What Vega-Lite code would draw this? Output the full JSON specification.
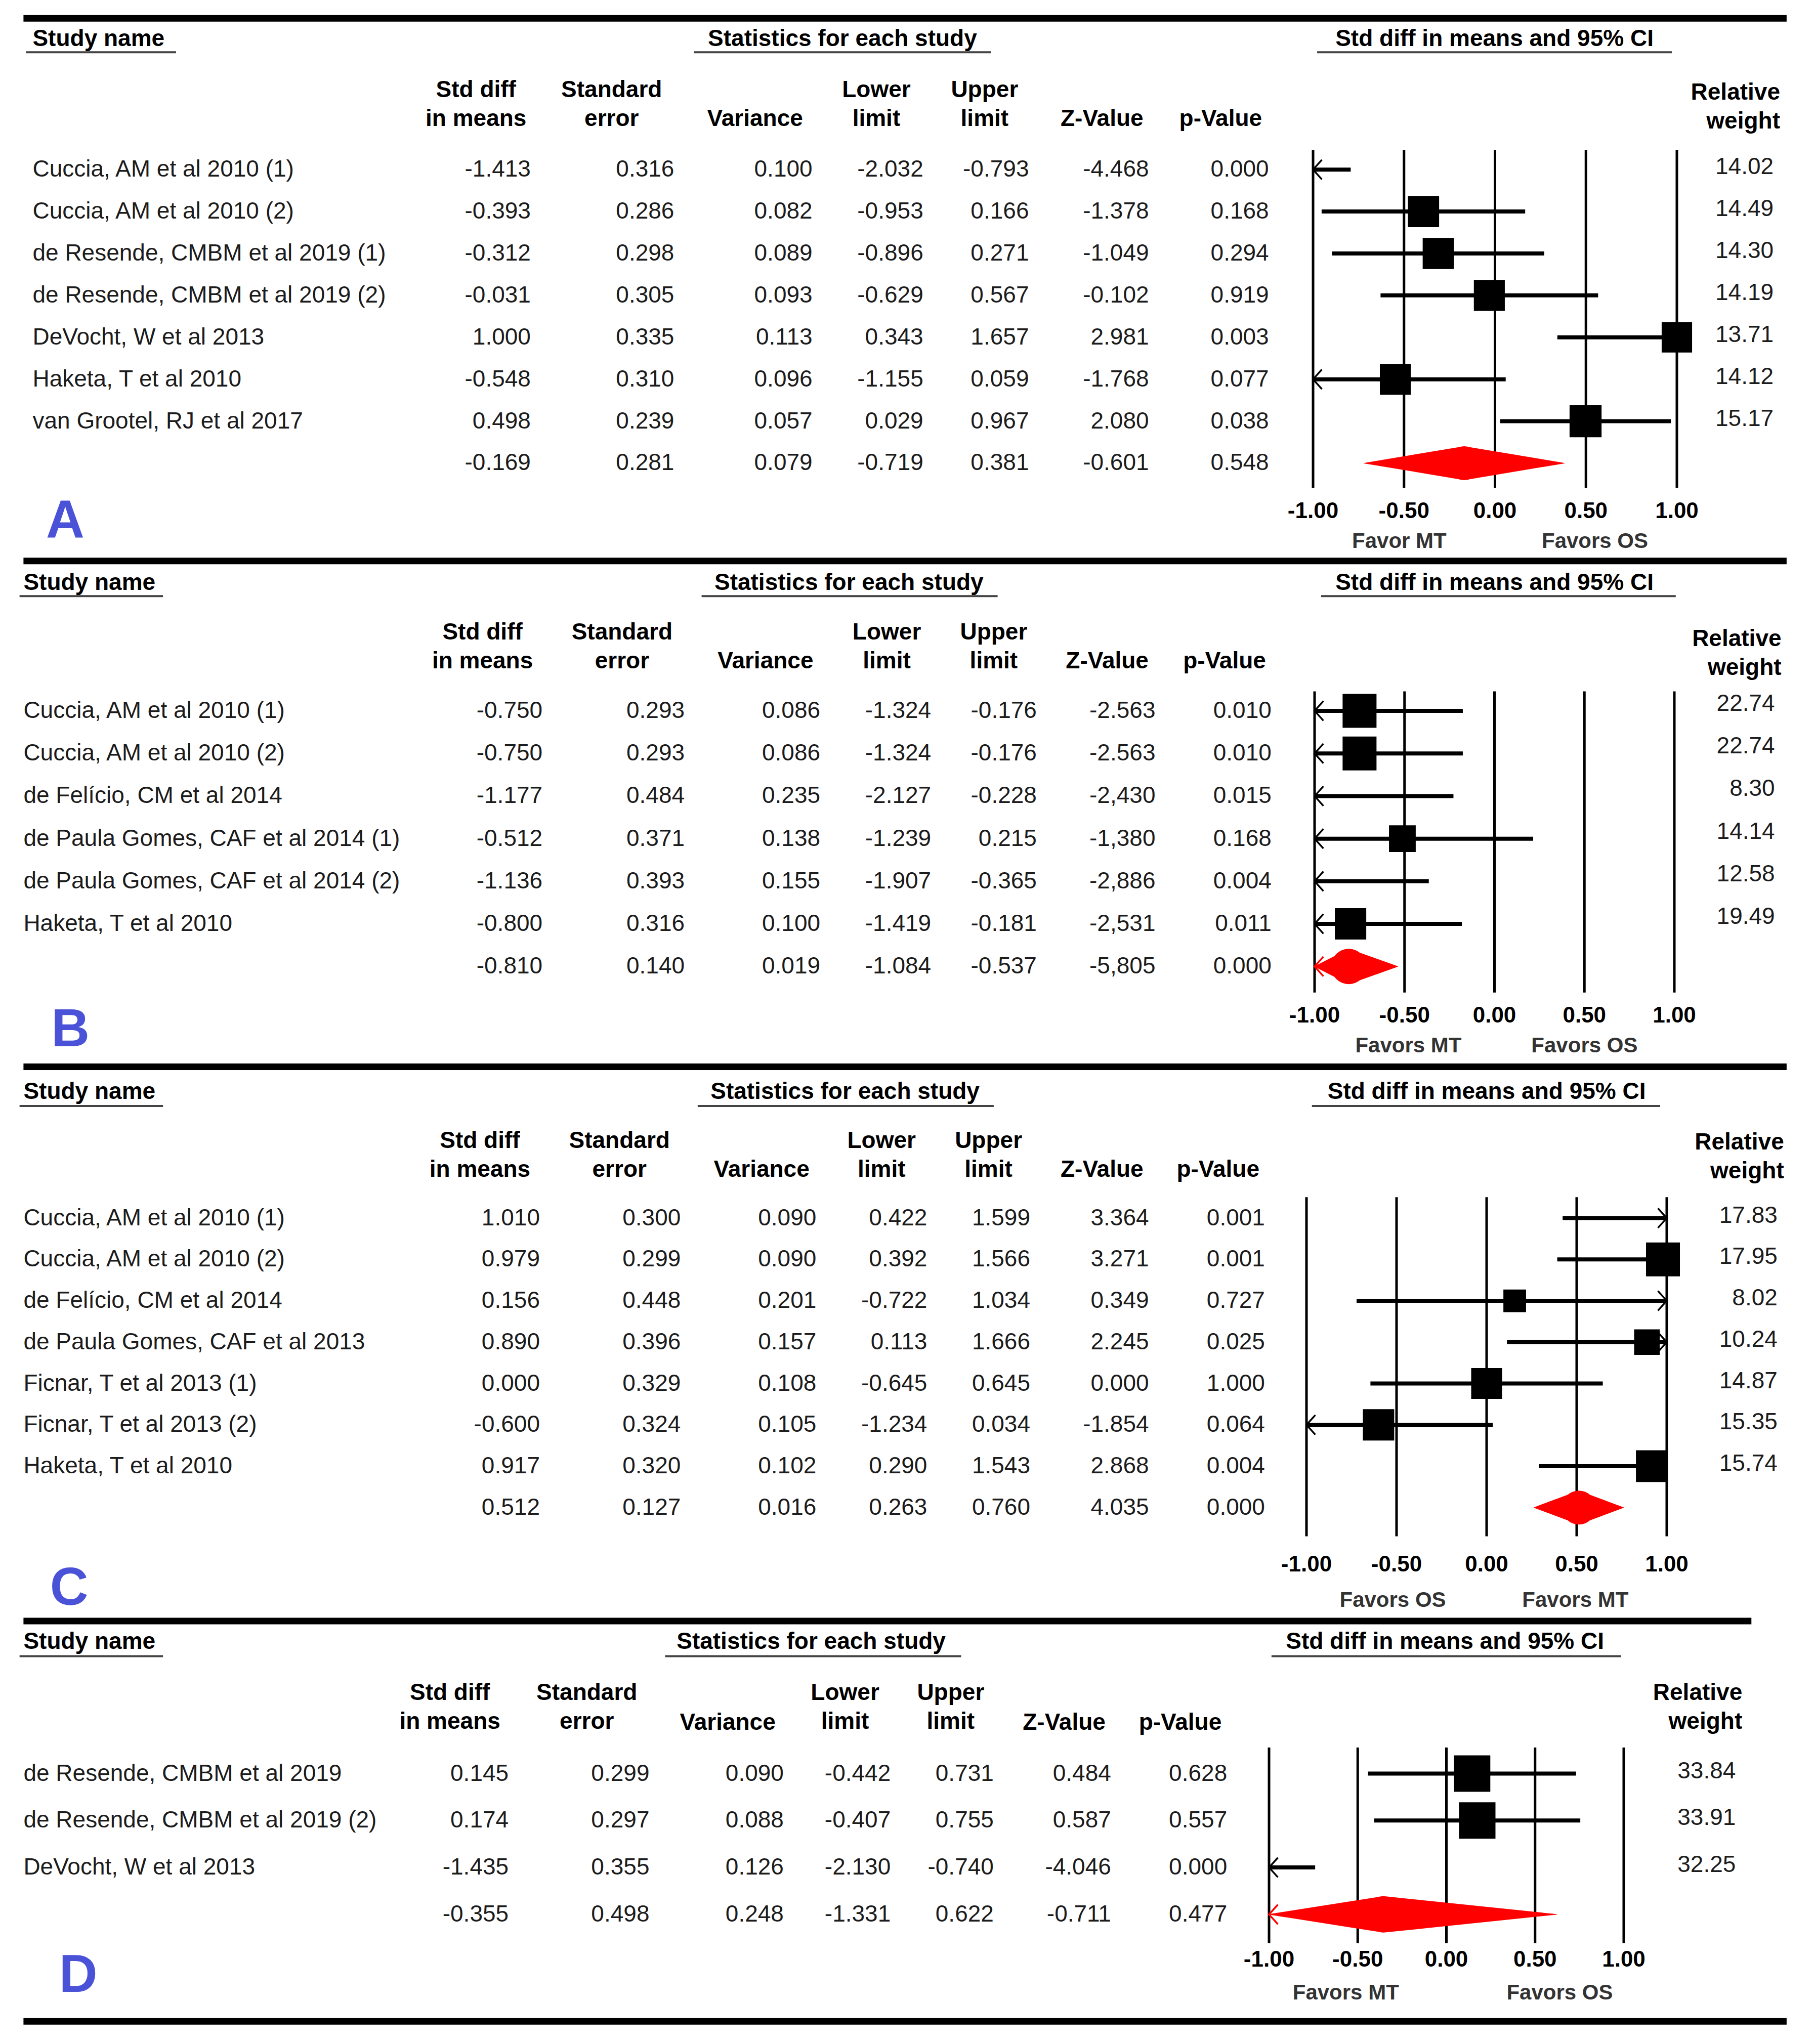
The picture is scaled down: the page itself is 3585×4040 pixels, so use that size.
{
"$schema":"https://vega.github.io/schema/vega-lite/v6.json",
"background":"white",
"padding":0,
"spacing":0,
"bounds":"flush",
"config":{"view":{"stroke":null},"axis":{"disable":true},"legend":{"disable":true},"mark":{"color":"black"},"text":{"font":"Liberation Sans","fontSize":46,"baseline":"middle","color":"#1c1c1c","lineHeight":57},"locale":{"number":{"decimal":".","thousands":",","grouping":[3],"currency":["$",""],"minus":"-"}},"concat":{"spacing":0}},
"datasets":{
"ticks":[{"t":-1},{"t":-0.5},{"t":0},{"t":0.5},{"t":1}],
"A":[
{"kind":"study","row":1,"study":"Cuccia, AM et al 2010 (1)","sdm":-1.413,"se":0.316,"variance":0.100,"lo":-2.032,"hi":-0.793,"z":"-4.468","p":0.000,"weight":14.02},
{"kind":"study","row":2,"study":"Cuccia, AM et al 2010 (2)","sdm":-0.393,"se":0.286,"variance":0.082,"lo":-0.953,"hi":0.166,"z":"-1.378","p":0.168,"weight":14.49},
{"kind":"study","row":3,"study":"de Resende, CMBM et al 2019 (1)","sdm":-0.312,"se":0.298,"variance":0.089,"lo":-0.896,"hi":0.271,"z":"-1.049","p":0.294,"weight":14.30},
{"kind":"study","row":4,"study":"de Resende, CMBM et al 2019 (2)","sdm":-0.031,"se":0.305,"variance":0.093,"lo":-0.629,"hi":0.567,"z":"-0.102","p":0.919,"weight":14.19},
{"kind":"study","row":5,"study":"DeVocht, W et al 2013","sdm":1.000,"se":0.335,"variance":0.113,"lo":0.343,"hi":1.657,"z":"2.981","p":0.003,"weight":13.71},
{"kind":"study","row":6,"study":"Haketa, T et al 2010","sdm":-0.548,"se":0.310,"variance":0.096,"lo":-1.155,"hi":0.059,"z":"-1.768","p":0.077,"weight":14.12},
{"kind":"study","row":7,"study":"van Grootel, RJ et al 2017","sdm":0.498,"se":0.239,"variance":0.057,"lo":0.029,"hi":0.967,"z":"2.080","p":0.038,"weight":15.17},
{"kind":"summary","row":8,"study":"","sdm":-0.169,"se":0.281,"variance":0.079,"lo":-0.719,"hi":0.381,"z":"-0.601","p":0.548,"weight":null}
],
"B":[
{"kind":"study","row":1,"study":"Cuccia, AM et al 2010 (1)","sdm":-0.750,"se":0.293,"variance":0.086,"lo":-1.324,"hi":-0.176,"z":"-2.563","p":0.010,"weight":22.74},
{"kind":"study","row":2,"study":"Cuccia, AM et al 2010 (2)","sdm":-0.750,"se":0.293,"variance":0.086,"lo":-1.324,"hi":-0.176,"z":"-2.563","p":0.010,"weight":22.74},
{"kind":"study","row":3,"study":"de Felício, CM et al 2014","sdm":-1.177,"se":0.484,"variance":0.235,"lo":-2.127,"hi":-0.228,"z":"-2,430","p":0.015,"weight":8.30},
{"kind":"study","row":4,"study":"de Paula Gomes, CAF et al 2014 (1)","sdm":-0.512,"se":0.371,"variance":0.138,"lo":-1.239,"hi":0.215,"z":"-1,380","p":0.168,"weight":14.14},
{"kind":"study","row":5,"study":"de Paula Gomes, CAF et al 2014 (2)","sdm":-1.136,"se":0.393,"variance":0.155,"lo":-1.907,"hi":-0.365,"z":"-2,886","p":0.004,"weight":12.58},
{"kind":"study","row":6,"study":"Haketa, T et al 2010","sdm":-0.800,"se":0.316,"variance":0.100,"lo":-1.419,"hi":-0.181,"z":"-2,531","p":0.011,"weight":19.49},
{"kind":"summary","row":7,"study":"","sdm":-0.810,"se":0.140,"variance":0.019,"lo":-1.084,"hi":-0.537,"z":"-5,805","p":0.000,"weight":null}
],
"C":[
{"kind":"study","row":1,"study":"Cuccia, AM et al 2010 (1)","sdm":1.010,"se":0.300,"variance":0.090,"lo":0.422,"hi":1.599,"z":"3.364","p":0.001,"weight":17.83},
{"kind":"study","row":2,"study":"Cuccia, AM et al 2010 (2)","sdm":0.979,"se":0.299,"variance":0.090,"lo":0.392,"hi":1.566,"z":"3.271","p":0.001,"weight":17.95},
{"kind":"study","row":3,"study":"de Felício, CM et al 2014","sdm":0.156,"se":0.448,"variance":0.201,"lo":-0.722,"hi":1.034,"z":"0.349","p":0.727,"weight":8.02},
{"kind":"study","row":4,"study":"de Paula Gomes, CAF et al 2013","sdm":0.890,"se":0.396,"variance":0.157,"lo":0.113,"hi":1.666,"z":"2.245","p":0.025,"weight":10.24},
{"kind":"study","row":5,"study":"Ficnar, T et al 2013 (1)","sdm":0.000,"se":0.329,"variance":0.108,"lo":-0.645,"hi":0.645,"z":"0.000","p":1.000,"weight":14.87},
{"kind":"study","row":6,"study":"Ficnar, T et al 2013 (2)","sdm":-0.600,"se":0.324,"variance":0.105,"lo":-1.234,"hi":0.034,"z":"-1.854","p":0.064,"weight":15.35},
{"kind":"study","row":7,"study":"Haketa, T et al 2010","sdm":0.917,"se":0.320,"variance":0.102,"lo":0.290,"hi":1.543,"z":"2.868","p":0.004,"weight":15.74},
{"kind":"summary","row":8,"study":"","sdm":0.512,"se":0.127,"variance":0.016,"lo":0.263,"hi":0.760,"z":"4.035","p":0.000,"weight":null}
],
"D":[
{"kind":"study","row":1,"study":"de Resende, CMBM et al 2019","sdm":0.145,"se":0.299,"variance":0.090,"lo":-0.442,"hi":0.731,"z":"0.484","p":0.628,"weight":33.84},
{"kind":"study","row":2,"study":"de Resende, CMBM et al 2019 (2)","sdm":0.174,"se":0.297,"variance":0.088,"lo":-0.407,"hi":0.755,"z":"0.587","p":0.557,"weight":33.91},
{"kind":"study","row":3,"study":"DeVocht, W et al 2013","sdm":-1.435,"se":0.355,"variance":0.126,"lo":-2.130,"hi":-0.740,"z":"-4.046","p":0.000,"weight":32.25},
{"kind":"summary","row":4,"study":"","sdm":-0.355,"se":0.498,"variance":0.248,"lo":-1.331,"hi":0.622,"z":"-0.711","p":0.477,"weight":null}
]
},
"resolve":{"scale":{"size":"independent"}},
"vconcat":[
{"width":3585,"height":1088,"resolve":{"scale":{"x":"independent"}},"layer":[
{"data":{"values":[{}]},"layer":[
{"mark":{"type":"rule","strokeWidth":13},"encoding":{"x":{"datum":18,"scale":{"domain":[0,1391]}},"x2":{"datum":1370},"y":{"datum":-2.608,"scale":{"domain":[10.082,-3.044]}}}},
{"mark":{"type":"text","align":"left","fontWeight":"bold","color":"black"},"encoding":{"x":{"datum":25,"scale":{"domain":[0,1391]}},"y":{"datum":-2.11,"scale":{"domain":[10.082,-3.044]}},"text":{"value":"Study name"}}},
{"mark":{"type":"rule","strokeWidth":4,"color":"#444"},"encoding":{"x":{"datum":20,"scale":{"domain":[0,1391]}},"x2":{"datum":135},"y":{"datum":-1.799,"scale":{"domain":[10.082,-3.044]}}}},
{"mark":{"type":"text","fontWeight":"bold","color":"black"},"encoding":{"x":{"datum":646,"scale":{"domain":[0,1391]}},"y":{"datum":-2.11,"scale":{"domain":[10.082,-3.044]}},"text":{"value":"Statistics for each study"}}},
{"mark":{"type":"rule","strokeWidth":4,"color":"#444"},"encoding":{"x":{"datum":532,"scale":{"domain":[0,1391]}},"x2":{"datum":760},"y":{"datum":-1.799,"scale":{"domain":[10.082,-3.044]}}}},
{"mark":{"type":"text","fontWeight":"bold","color":"black"},"encoding":{"x":{"datum":1146,"scale":{"domain":[0,1391]}},"y":{"datum":-2.11,"scale":{"domain":[10.082,-3.044]}},"text":{"value":"Std diff in means and 95% CI"}}},
{"mark":{"type":"rule","strokeWidth":4,"color":"#444"},"encoding":{"x":{"datum":1010,"scale":{"domain":[0,1391]}},"x2":{"datum":1282},"y":{"datum":-1.799,"scale":{"domain":[10.082,-3.044]}}}},
{"mark":{"type":"text","fontWeight":"bold","color":"black"},"encoding":{"x":{"datum":365,"scale":{"domain":[0,1391]}},"y":{"datum":-0.897,"scale":{"domain":[10.082,-3.044]}},"text":{"value":["Std diff","in means"]}}},
{"mark":{"type":"text","fontWeight":"bold","color":"black"},"encoding":{"x":{"datum":469,"scale":{"domain":[0,1391]}},"y":{"datum":-0.897,"scale":{"domain":[10.082,-3.044]}},"text":{"value":["Standard","error"]}}},
{"mark":{"type":"text","fontWeight":"bold","color":"black"},"encoding":{"x":{"datum":579,"scale":{"domain":[0,1391]}},"y":{"datum":-0.213,"scale":{"domain":[10.082,-3.044]}},"text":{"value":"Variance"}}},
{"mark":{"type":"text","fontWeight":"bold","color":"black"},"encoding":{"x":{"datum":672,"scale":{"domain":[0,1391]}},"y":{"datum":-0.897,"scale":{"domain":[10.082,-3.044]}},"text":{"value":["Lower","limit"]}}},
{"mark":{"type":"text","fontWeight":"bold","color":"black"},"encoding":{"x":{"datum":755,"scale":{"domain":[0,1391]}},"y":{"datum":-0.897,"scale":{"domain":[10.082,-3.044]}},"text":{"value":["Upper","limit"]}}},
{"mark":{"type":"text","fontWeight":"bold","color":"black"},"encoding":{"x":{"datum":845,"scale":{"domain":[0,1391]}},"y":{"datum":-0.213,"scale":{"domain":[10.082,-3.044]}},"text":{"value":"Z-Value"}}},
{"mark":{"type":"text","fontWeight":"bold","color":"black"},"encoding":{"x":{"datum":936,"scale":{"domain":[0,1391]}},"y":{"datum":-0.213,"scale":{"domain":[10.082,-3.044]}},"text":{"value":"p-Value"}}},
{"mark":{"type":"text","align":"right","fontWeight":"bold","color":"black"},"encoding":{"x":{"datum":1365,"scale":{"domain":[0,1391]}},"y":{"datum":-0.835,"scale":{"domain":[10.082,-3.044]}},"text":{"value":["Relative","weight"]}}},
{"mark":{"type":"text","fontWeight":"bold","fontSize":105,"color":"#4A52D8"},"encoding":{"x":{"datum":50,"scale":{"domain":[0,1391]}},"y":{"datum":9.398,"scale":{"domain":[10.082,-3.044]}},"text":{"value":"A"}}},
{"mark":{"type":"text","fontWeight":"bold","fontSize":42,"color":"#333"},"encoding":{"x":{"datum":1073,"scale":{"domain":[0,1391]}},"y":{"datum":9.865,"scale":{"domain":[10.082,-3.044]}},"text":{"value":"Favor MT"}}},
{"mark":{"type":"text","fontWeight":"bold","fontSize":42,"color":"#333"},"encoding":{"x":{"datum":1223,"scale":{"domain":[0,1391]}},"y":{"datum":9.865,"scale":{"domain":[10.082,-3.044]}},"text":{"value":"Favors OS"}}},
{"data":{"name":"A"},"mark":{"type":"text","align":"left"},"encoding":{"x":{"datum":25,"scale":{"domain":[0,1391]}},"y":{"field":"row","type":"quantitative","scale":{"domain":[10.082,-3.044]}},"text":{"field":"study","type":"nominal"}}},
{"data":{"name":"A"},"mark":{"type":"text","align":"right"},"encoding":{"x":{"datum":407,"scale":{"domain":[0,1391]}},"y":{"field":"row","type":"quantitative","scale":{"domain":[10.082,-3.044]}},"text":{"field":"sdm","type":"quantitative","format":".3f"}}},
{"data":{"name":"A"},"mark":{"type":"text","align":"right"},"encoding":{"x":{"datum":517,"scale":{"domain":[0,1391]}},"y":{"field":"row","type":"quantitative","scale":{"domain":[10.082,-3.044]}},"text":{"field":"se","type":"quantitative","format":".3f"}}},
{"data":{"name":"A"},"mark":{"type":"text","align":"right"},"encoding":{"x":{"datum":623,"scale":{"domain":[0,1391]}},"y":{"field":"row","type":"quantitative","scale":{"domain":[10.082,-3.044]}},"text":{"field":"variance","type":"quantitative","format":".3f"}}},
{"data":{"name":"A"},"mark":{"type":"text","align":"right"},"encoding":{"x":{"datum":708,"scale":{"domain":[0,1391]}},"y":{"field":"row","type":"quantitative","scale":{"domain":[10.082,-3.044]}},"text":{"field":"lo","type":"quantitative","format":".3f"}}},
{"data":{"name":"A"},"mark":{"type":"text","align":"right"},"encoding":{"x":{"datum":789,"scale":{"domain":[0,1391]}},"y":{"field":"row","type":"quantitative","scale":{"domain":[10.082,-3.044]}},"text":{"field":"hi","type":"quantitative","format":".3f"}}},
{"data":{"name":"A"},"mark":{"type":"text","align":"right"},"encoding":{"x":{"datum":881,"scale":{"domain":[0,1391]}},"y":{"field":"row","type":"quantitative","scale":{"domain":[10.082,-3.044]}},"text":{"field":"z","type":"nominal"}}},
{"data":{"name":"A"},"mark":{"type":"text","align":"right"},"encoding":{"x":{"datum":973,"scale":{"domain":[0,1391]}},"y":{"field":"row","type":"quantitative","scale":{"domain":[10.082,-3.044]}},"text":{"field":"p","type":"quantitative","format":".3f"}}},
{"data":{"name":"A"},"transform":[{"filter":"datum.weight != null"}],"mark":{"type":"text","align":"right","dy":-5},"encoding":{"x":{"datum":1360,"scale":{"domain":[0,1391]}},"y":{"field":"row","type":"quantitative","scale":{"domain":[10.082,-3.044]}},"text":{"field":"weight","type":"quantitative","format":".2f"}}}
]},
{"layer":[
{"data":{"name":"ticks"},"mark":{"type":"rule","strokeWidth":5},"encoding":{"x":{"field":"t","type":"quantitative","scale":{"domain":[-1,1],"range":[2595,3314],"clamp":true}},"y":{"datum":0.533,"scale":{"domain":[10.082,-3.044]}},"y2":{"datum":8.589}}},
{"data":{"name":"ticks"},"mark":{"type":"text","fontWeight":"bold","fontSize":44,"color":"black"},"encoding":{"x":{"field":"t","type":"quantitative","scale":{"domain":[-1,1],"range":[2595,3314],"clamp":true}},"y":{"datum":9.149,"scale":{"domain":[10.082,-3.044]}},"text":{"field":"t","type":"quantitative","format":".2f"}}},
{"data":{"name":"A"},"transform":[{"filter":"datum.kind == 'study'"}],"mark":{"type":"rule","strokeWidth":8},"encoding":{"x":{"field":"lo","type":"quantitative","scale":{"domain":[-1,1],"range":[2595,3314],"clamp":true}},"x2":{"field":"hi"},"y":{"field":"row","type":"quantitative","scale":{"domain":[10.082,-3.044]}}}},
{"data":{"name":"A"},"transform":[{"filter":"datum.kind == 'study' && datum.sdm >= -1 && datum.sdm <= 1"}],"mark":{"type":"square","opacity":1},"encoding":{"x":{"field":"sdm","type":"quantitative","scale":{"domain":[-1,1],"range":[2595,3314],"clamp":true}},"y":{"field":"row","type":"quantitative","scale":{"domain":[10.082,-3.044]}},"size":{"field":"weight","type":"quantitative","scale":{"domain":[0,15.17],"range":[0,4000]}}}},
{"data":{"name":"A"},"transform":[{"filter":"datum.lo < -1"}],"mark":{"type":"point","shape":"M0.9,-1L0,0L0.9,1","filled":false,"strokeWidth":3.5,"size":1500,"opacity":1},"encoding":{"x":{"field":"lo","type":"quantitative","scale":{"domain":[-1,1],"range":[2595,3314],"clamp":true}},"y":{"field":"row","type":"quantitative","scale":{"domain":[10.082,-3.044]}},"color":{"condition":{"test":"datum.kind == 'summary'","value":"red"},"value":"black"}}},
{"data":{"name":"A"},"transform":[{"filter":"datum.hi > 1"}],"mark":{"type":"point","shape":"M-0.9,-1L0,0L-0.9,1","filled":false,"strokeWidth":3.5,"size":1500,"opacity":1},"encoding":{"x":{"field":"hi","type":"quantitative","scale":{"domain":[-1,1],"range":[2595,3314],"clamp":true}},"y":{"field":"row","type":"quantitative","scale":{"domain":[10.082,-3.044]}},"color":{"condition":{"test":"datum.kind == 'summary'","value":"red"},"value":"black"}}},
{"data":{"name":"A"},"transform":[{"filter":"datum.kind == 'summary'"},{"fold":["lo","sdm","hi"],"as":["pt","xv"]}],"mark":{"type":"trail","color":"red","opacity":1},"encoding":{"x":{"field":"xv","type":"quantitative","scale":{"domain":[-1,1],"range":[2595,3314],"clamp":true}},"y":{"field":"row","type":"quantitative","scale":{"domain":[10.082,-3.044]}},"order":{"field":"xv","type":"quantitative"},"size":{"condition":{"test":"datum.pt == 'sdm'","value":67},"value":0}}}
]}
]},
{"width":3585,"height":1000,"resolve":{"scale":{"x":"independent"}},"layer":[
{"data":{"values":[{}]},"layer":[
{"mark":{"type":"rule","strokeWidth":13},"encoding":{"x":{"datum":18,"scale":{"domain":[0,1391]}},"x2":{"datum":1370},"y":{"datum":-2.52,"scale":{"domain":[9.111,-2.765]}}}},
{"mark":{"type":"text","align":"left","fontWeight":"bold","color":"black"},"encoding":{"x":{"datum":18,"scale":{"domain":[0,1391]}},"y":{"datum":-2.0,"scale":{"domain":[9.111,-2.765]}},"text":{"value":"Study name"}}},
{"mark":{"type":"rule","strokeWidth":4,"color":"#444"},"encoding":{"x":{"datum":15,"scale":{"domain":[0,1391]}},"x2":{"datum":125},"y":{"datum":-1.694,"scale":{"domain":[9.111,-2.765]}}}},
{"mark":{"type":"text","fontWeight":"bold","color":"black"},"encoding":{"x":{"datum":651,"scale":{"domain":[0,1391]}},"y":{"datum":-2.0,"scale":{"domain":[9.111,-2.765]}},"text":{"value":"Statistics for each study"}}},
{"mark":{"type":"rule","strokeWidth":4,"color":"#444"},"encoding":{"x":{"datum":538,"scale":{"domain":[0,1391]}},"x2":{"datum":765},"y":{"datum":-1.694,"scale":{"domain":[9.111,-2.765]}}}},
{"mark":{"type":"text","fontWeight":"bold","color":"black"},"encoding":{"x":{"datum":1146,"scale":{"domain":[0,1391]}},"y":{"datum":-2.0,"scale":{"domain":[9.111,-2.765]}},"text":{"value":"Std diff in means and 95% CI"}}},
{"mark":{"type":"rule","strokeWidth":4,"color":"#444"},"encoding":{"x":{"datum":1013,"scale":{"domain":[0,1391]}},"x2":{"datum":1285},"y":{"datum":-1.694,"scale":{"domain":[9.111,-2.765]}}}},
{"mark":{"type":"text","fontWeight":"bold","color":"black"},"encoding":{"x":{"datum":370,"scale":{"domain":[0,1391]}},"y":{"datum":-0.837,"scale":{"domain":[9.111,-2.765]}},"text":{"value":["Std diff","in means"]}}},
{"mark":{"type":"text","fontWeight":"bold","color":"black"},"encoding":{"x":{"datum":477,"scale":{"domain":[0,1391]}},"y":{"datum":-0.837,"scale":{"domain":[9.111,-2.765]}},"text":{"value":["Standard","error"]}}},
{"mark":{"type":"text","fontWeight":"bold","color":"black"},"encoding":{"x":{"datum":587,"scale":{"domain":[0,1391]}},"y":{"datum":-0.163,"scale":{"domain":[9.111,-2.765]}},"text":{"value":"Variance"}}},
{"mark":{"type":"text","fontWeight":"bold","color":"black"},"encoding":{"x":{"datum":680,"scale":{"domain":[0,1391]}},"y":{"datum":-0.837,"scale":{"domain":[9.111,-2.765]}},"text":{"value":["Lower","limit"]}}},
{"mark":{"type":"text","fontWeight":"bold","color":"black"},"encoding":{"x":{"datum":762,"scale":{"domain":[0,1391]}},"y":{"datum":-0.837,"scale":{"domain":[9.111,-2.765]}},"text":{"value":["Upper","limit"]}}},
{"mark":{"type":"text","fontWeight":"bold","color":"black"},"encoding":{"x":{"datum":849,"scale":{"domain":[0,1391]}},"y":{"datum":-0.163,"scale":{"domain":[9.111,-2.765]}},"text":{"value":"Z-Value"}}},
{"mark":{"type":"text","fontWeight":"bold","color":"black"},"encoding":{"x":{"datum":939,"scale":{"domain":[0,1391]}},"y":{"datum":-0.163,"scale":{"domain":[9.111,-2.765]}},"text":{"value":"p-Value"}}},
{"mark":{"type":"text","align":"right","fontWeight":"bold","color":"black"},"encoding":{"x":{"datum":1366,"scale":{"domain":[0,1391]}},"y":{"datum":-0.683,"scale":{"domain":[9.111,-2.765]}},"text":{"value":["Relative","weight"]}}},
{"mark":{"type":"text","fontWeight":"bold","fontSize":105,"color":"#4A52D8"},"encoding":{"x":{"datum":54,"scale":{"domain":[0,1391]}},"y":{"datum":8.499,"scale":{"domain":[9.111,-2.765]}},"text":{"value":"B"}}},
{"mark":{"type":"text","fontWeight":"bold","fontSize":42,"color":"#333"},"encoding":{"x":{"datum":1080,"scale":{"domain":[0,1391]}},"y":{"datum":8.867,"scale":{"domain":[9.111,-2.765]}},"text":{"value":"Favors MT"}}},
{"mark":{"type":"text","fontWeight":"bold","fontSize":42,"color":"#333"},"encoding":{"x":{"datum":1215,"scale":{"domain":[0,1391]}},"y":{"datum":8.867,"scale":{"domain":[9.111,-2.765]}},"text":{"value":"Favors OS"}}},
{"data":{"name":"B"},"mark":{"type":"text","align":"left"},"encoding":{"x":{"datum":18,"scale":{"domain":[0,1391]}},"y":{"field":"row","type":"quantitative","scale":{"domain":[9.111,-2.765]}},"text":{"field":"study","type":"nominal"}}},
{"data":{"name":"B"},"mark":{"type":"text","align":"right"},"encoding":{"x":{"datum":416,"scale":{"domain":[0,1391]}},"y":{"field":"row","type":"quantitative","scale":{"domain":[9.111,-2.765]}},"text":{"field":"sdm","type":"quantitative","format":".3f"}}},
{"data":{"name":"B"},"mark":{"type":"text","align":"right"},"encoding":{"x":{"datum":525,"scale":{"domain":[0,1391]}},"y":{"field":"row","type":"quantitative","scale":{"domain":[9.111,-2.765]}},"text":{"field":"se","type":"quantitative","format":".3f"}}},
{"data":{"name":"B"},"mark":{"type":"text","align":"right"},"encoding":{"x":{"datum":629,"scale":{"domain":[0,1391]}},"y":{"field":"row","type":"quantitative","scale":{"domain":[9.111,-2.765]}},"text":{"field":"variance","type":"quantitative","format":".3f"}}},
{"data":{"name":"B"},"mark":{"type":"text","align":"right"},"encoding":{"x":{"datum":714,"scale":{"domain":[0,1391]}},"y":{"field":"row","type":"quantitative","scale":{"domain":[9.111,-2.765]}},"text":{"field":"lo","type":"quantitative","format":".3f"}}},
{"data":{"name":"B"},"mark":{"type":"text","align":"right"},"encoding":{"x":{"datum":795,"scale":{"domain":[0,1391]}},"y":{"field":"row","type":"quantitative","scale":{"domain":[9.111,-2.765]}},"text":{"field":"hi","type":"quantitative","format":".3f"}}},
{"data":{"name":"B"},"mark":{"type":"text","align":"right"},"encoding":{"x":{"datum":886,"scale":{"domain":[0,1391]}},"y":{"field":"row","type":"quantitative","scale":{"domain":[9.111,-2.765]}},"text":{"field":"z","type":"nominal"}}},
{"data":{"name":"B"},"mark":{"type":"text","align":"right"},"encoding":{"x":{"datum":975,"scale":{"domain":[0,1391]}},"y":{"field":"row","type":"quantitative","scale":{"domain":[9.111,-2.765]}},"text":{"field":"p","type":"quantitative","format":".3f"}}},
{"data":{"name":"B"},"transform":[{"filter":"datum.weight != null"}],"mark":{"type":"text","align":"right","dy":-14},"encoding":{"x":{"datum":1361,"scale":{"domain":[0,1391]}},"y":{"field":"row","type":"quantitative","scale":{"domain":[9.111,-2.765]}},"text":{"field":"weight","type":"quantitative","format":".2f"}}}
]},
{"layer":[
{"data":{"name":"ticks"},"mark":{"type":"rule","strokeWidth":5},"encoding":{"x":{"field":"t","type":"quantitative","scale":{"domain":[-1,1],"range":[2598,3309],"clamp":true}},"y":{"datum":0.541,"scale":{"domain":[9.111,-2.765]}},"y2":{"datum":7.612}}},
{"data":{"name":"ticks"},"mark":{"type":"text","fontWeight":"bold","fontSize":44,"color":"black"},"encoding":{"x":{"field":"t","type":"quantitative","scale":{"domain":[-1,1],"range":[2598,3309],"clamp":true}},"y":{"datum":8.163,"scale":{"domain":[9.111,-2.765]}},"text":{"field":"t","type":"quantitative","format":".2f"}}},
{"data":{"name":"B"},"transform":[{"filter":"datum.kind == 'study'"}],"mark":{"type":"rule","strokeWidth":8},"encoding":{"x":{"field":"lo","type":"quantitative","scale":{"domain":[-1,1],"range":[2598,3309],"clamp":true}},"x2":{"field":"hi"},"y":{"field":"row","type":"quantitative","scale":{"domain":[9.111,-2.765]}}}},
{"data":{"name":"B"},"transform":[{"filter":"datum.kind == 'study' && datum.sdm >= -1 && datum.sdm <= 1"}],"mark":{"type":"square","opacity":1},"encoding":{"x":{"field":"sdm","type":"quantitative","scale":{"domain":[-1,1],"range":[2598,3309],"clamp":true}},"y":{"field":"row","type":"quantitative","scale":{"domain":[9.111,-2.765]}},"size":{"field":"weight","type":"quantitative","scale":{"domain":[0,22.74],"range":[0,4489]}}}},
{"data":{"name":"B"},"transform":[{"filter":"datum.lo < -1"}],"mark":{"type":"point","shape":"M0.9,-1L0,0L0.9,1","filled":false,"strokeWidth":3.5,"size":1500,"opacity":1},"encoding":{"x":{"field":"lo","type":"quantitative","scale":{"domain":[-1,1],"range":[2598,3309],"clamp":true}},"y":{"field":"row","type":"quantitative","scale":{"domain":[9.111,-2.765]}},"color":{"condition":{"test":"datum.kind == 'summary'","value":"red"},"value":"black"}}},
{"data":{"name":"B"},"transform":[{"filter":"datum.kind == 'summary'"},{"fold":["lo","sdm","hi"],"as":["pt","xv"]}],"mark":{"type":"trail","color":"red","opacity":1},"encoding":{"x":{"field":"xv","type":"quantitative","scale":{"domain":[-1,1],"range":[2598,3309],"clamp":true}},"y":{"field":"row","type":"quantitative","scale":{"domain":[9.111,-2.765]}},"order":{"field":"xv","type":"quantitative"},"size":{"condition":{"test":"datum.pt == 'sdm'","value":70},"value":0}}}
]}
]},
{"width":3585,"height":1098,"resolve":{"scale":{"x":"independent"}},"layer":[
{"data":{"values":[{}]},"layer":[
{"mark":{"type":"rule","strokeWidth":13},"encoding":{"x":{"datum":18,"scale":{"domain":[0,1391]}},"x2":{"datum":1370},"y":{"datum":-2.658,"scale":{"domain":[10.524,-2.91]}}}},
{"mark":{"type":"text","align":"left","fontWeight":"bold","color":"black"},"encoding":{"x":{"datum":18,"scale":{"domain":[0,1391]}},"y":{"datum":-2.059,"scale":{"domain":[10.524,-2.91]}},"text":{"value":"Study name"}}},
{"mark":{"type":"rule","strokeWidth":4,"color":"#444"},"encoding":{"x":{"datum":15,"scale":{"domain":[0,1391]}},"x2":{"datum":125},"y":{"datum":-1.712,"scale":{"domain":[10.524,-2.91]}}}},
{"mark":{"type":"text","fontWeight":"bold","color":"black"},"encoding":{"x":{"datum":648,"scale":{"domain":[0,1391]}},"y":{"datum":-2.059,"scale":{"domain":[10.524,-2.91]}},"text":{"value":"Statistics for each study"}}},
{"mark":{"type":"rule","strokeWidth":4,"color":"#444"},"encoding":{"x":{"datum":535,"scale":{"domain":[0,1391]}},"x2":{"datum":762},"y":{"datum":-1.712,"scale":{"domain":[10.524,-2.91]}}}},
{"mark":{"type":"text","fontWeight":"bold","color":"black"},"encoding":{"x":{"datum":1140,"scale":{"domain":[0,1391]}},"y":{"datum":-2.059,"scale":{"domain":[10.524,-2.91]}},"text":{"value":"Std diff in means and 95% CI"}}},
{"mark":{"type":"rule","strokeWidth":4,"color":"#444"},"encoding":{"x":{"datum":1006,"scale":{"domain":[0,1391]}},"x2":{"datum":1273},"y":{"datum":-1.712,"scale":{"domain":[10.524,-2.91]}}}},
{"mark":{"type":"text","fontWeight":"bold","color":"black"},"encoding":{"x":{"datum":368,"scale":{"domain":[0,1391]}},"y":{"datum":-0.861,"scale":{"domain":[10.524,-2.91]}},"text":{"value":["Std diff","in means"]}}},
{"mark":{"type":"text","fontWeight":"bold","color":"black"},"encoding":{"x":{"datum":475,"scale":{"domain":[0,1391]}},"y":{"datum":-0.861,"scale":{"domain":[10.524,-2.91]}},"text":{"value":["Standard","error"]}}},
{"mark":{"type":"text","fontWeight":"bold","color":"black"},"encoding":{"x":{"datum":584,"scale":{"domain":[0,1391]}},"y":{"datum":-0.167,"scale":{"domain":[10.524,-2.91]}},"text":{"value":"Variance"}}},
{"mark":{"type":"text","fontWeight":"bold","color":"black"},"encoding":{"x":{"datum":676,"scale":{"domain":[0,1391]}},"y":{"datum":-0.861,"scale":{"domain":[10.524,-2.91]}},"text":{"value":["Lower","limit"]}}},
{"mark":{"type":"text","fontWeight":"bold","color":"black"},"encoding":{"x":{"datum":758,"scale":{"domain":[0,1391]}},"y":{"datum":-0.861,"scale":{"domain":[10.524,-2.91]}},"text":{"value":["Upper","limit"]}}},
{"mark":{"type":"text","fontWeight":"bold","color":"black"},"encoding":{"x":{"datum":845,"scale":{"domain":[0,1391]}},"y":{"datum":-0.167,"scale":{"domain":[10.524,-2.91]}},"text":{"value":"Z-Value"}}},
{"mark":{"type":"text","fontWeight":"bold","color":"black"},"encoding":{"x":{"datum":934,"scale":{"domain":[0,1391]}},"y":{"datum":-0.167,"scale":{"domain":[10.524,-2.91]}},"text":{"value":"p-Value"}}},
{"mark":{"type":"text","align":"right","fontWeight":"bold","color":"black"},"encoding":{"x":{"datum":1368,"scale":{"domain":[0,1391]}},"y":{"datum":-0.829,"scale":{"domain":[10.524,-2.91]}},"text":{"value":["Relative","weight"]}}},
{"mark":{"type":"text","fontWeight":"bold","fontSize":105,"color":"#4A52D8"},"encoding":{"x":{"datum":53,"scale":{"domain":[0,1391]}},"y":{"datum":9.956,"scale":{"domain":[10.524,-2.91]}},"text":{"value":"C"}}},
{"mark":{"type":"text","fontWeight":"bold","fontSize":42,"color":"#333"},"encoding":{"x":{"datum":1068,"scale":{"domain":[0,1391]}},"y":{"datum":10.24,"scale":{"domain":[10.524,-2.91]}},"text":{"value":"Favors OS"}}},
{"mark":{"type":"text","fontWeight":"bold","fontSize":42,"color":"#333"},"encoding":{"x":{"datum":1208,"scale":{"domain":[0,1391]}},"y":{"datum":10.24,"scale":{"domain":[10.524,-2.91]}},"text":{"value":"Favors MT"}}},
{"data":{"name":"C"},"mark":{"type":"text","align":"left"},"encoding":{"x":{"datum":18,"scale":{"domain":[0,1391]}},"y":{"field":"row","type":"quantitative","scale":{"domain":[10.524,-2.91]}},"text":{"field":"study","type":"nominal"}}},
{"data":{"name":"C"},"mark":{"type":"text","align":"right"},"encoding":{"x":{"datum":414,"scale":{"domain":[0,1391]}},"y":{"field":"row","type":"quantitative","scale":{"domain":[10.524,-2.91]}},"text":{"field":"sdm","type":"quantitative","format":".3f"}}},
{"data":{"name":"C"},"mark":{"type":"text","align":"right"},"encoding":{"x":{"datum":522,"scale":{"domain":[0,1391]}},"y":{"field":"row","type":"quantitative","scale":{"domain":[10.524,-2.91]}},"text":{"field":"se","type":"quantitative","format":".3f"}}},
{"data":{"name":"C"},"mark":{"type":"text","align":"right"},"encoding":{"x":{"datum":626,"scale":{"domain":[0,1391]}},"y":{"field":"row","type":"quantitative","scale":{"domain":[10.524,-2.91]}},"text":{"field":"variance","type":"quantitative","format":".3f"}}},
{"data":{"name":"C"},"mark":{"type":"text","align":"right"},"encoding":{"x":{"datum":711,"scale":{"domain":[0,1391]}},"y":{"field":"row","type":"quantitative","scale":{"domain":[10.524,-2.91]}},"text":{"field":"lo","type":"quantitative","format":".3f"}}},
{"data":{"name":"C"},"mark":{"type":"text","align":"right"},"encoding":{"x":{"datum":790,"scale":{"domain":[0,1391]}},"y":{"field":"row","type":"quantitative","scale":{"domain":[10.524,-2.91]}},"text":{"field":"hi","type":"quantitative","format":".3f"}}},
{"data":{"name":"C"},"mark":{"type":"text","align":"right"},"encoding":{"x":{"datum":881,"scale":{"domain":[0,1391]}},"y":{"field":"row","type":"quantitative","scale":{"domain":[10.524,-2.91]}},"text":{"field":"z","type":"nominal"}}},
{"data":{"name":"C"},"mark":{"type":"text","align":"right"},"encoding":{"x":{"datum":970,"scale":{"domain":[0,1391]}},"y":{"field":"row","type":"quantitative","scale":{"domain":[10.524,-2.91]}},"text":{"field":"p","type":"quantitative","format":".3f"}}},
{"data":{"name":"C"},"transform":[{"filter":"datum.weight != null"}],"mark":{"type":"text","align":"right","dy":-5},"encoding":{"x":{"datum":1363,"scale":{"domain":[0,1391]}},"y":{"field":"row","type":"quantitative","scale":{"domain":[10.524,-2.91]}},"text":{"field":"weight","type":"quantitative","format":".2f"}}}
]},
{"layer":[
{"data":{"name":"ticks"},"mark":{"type":"rule","strokeWidth":5},"encoding":{"x":{"field":"t","type":"quantitative","scale":{"domain":[-1,1],"range":[2582,3294],"clamp":true}},"y":{"datum":0.495,"scale":{"domain":[10.524,-2.91]}},"y2":{"datum":8.695}}},
{"data":{"name":"ticks"},"mark":{"type":"text","fontWeight":"bold","fontSize":44,"color":"black"},"encoding":{"x":{"field":"t","type":"quantitative","scale":{"domain":[-1,1],"range":[2582,3294],"clamp":true}},"y":{"datum":9.389,"scale":{"domain":[10.524,-2.91]}},"text":{"field":"t","type":"quantitative","format":".2f"}}},
{"data":{"name":"C"},"transform":[{"filter":"datum.kind == 'study'"}],"mark":{"type":"rule","strokeWidth":8},"encoding":{"x":{"field":"lo","type":"quantitative","scale":{"domain":[-1,1],"range":[2582,3294],"clamp":true}},"x2":{"field":"hi"},"y":{"field":"row","type":"quantitative","scale":{"domain":[10.524,-2.91]}}}},
{"data":{"name":"C"},"transform":[{"filter":"datum.kind == 'study' && datum.sdm >= -1 && datum.sdm <= 1"}],"mark":{"type":"square","opacity":1},"encoding":{"x":{"field":"sdm","type":"quantitative","scale":{"domain":[-1,1],"range":[2582,3294],"clamp":true}},"y":{"field":"row","type":"quantitative","scale":{"domain":[10.524,-2.91]}},"size":{"field":"weight","type":"quantitative","scale":{"domain":[0,17.95],"range":[0,4489]}}}},
{"data":{"name":"C"},"transform":[{"filter":"datum.lo < -1"}],"mark":{"type":"point","shape":"M0.9,-1L0,0L0.9,1","filled":false,"strokeWidth":3.5,"size":1500,"opacity":1},"encoding":{"x":{"field":"lo","type":"quantitative","scale":{"domain":[-1,1],"range":[2582,3294],"clamp":true}},"y":{"field":"row","type":"quantitative","scale":{"domain":[10.524,-2.91]}},"color":{"condition":{"test":"datum.kind == 'summary'","value":"red"},"value":"black"}}},
{"data":{"name":"C"},"transform":[{"filter":"datum.hi > 1"}],"mark":{"type":"point","shape":"M-0.9,-1L0,0L-0.9,1","filled":false,"strokeWidth":3.5,"size":1500,"opacity":1},"encoding":{"x":{"field":"hi","type":"quantitative","scale":{"domain":[-1,1],"range":[2582,3294],"clamp":true}},"y":{"field":"row","type":"quantitative","scale":{"domain":[10.524,-2.91]}},"color":{"condition":{"test":"datum.kind == 'summary'","value":"red"},"value":"black"}}},
{"data":{"name":"C"},"transform":[{"filter":"datum.kind == 'summary'"},{"fold":["lo","sdm","hi"],"as":["pt","xv"]}],"mark":{"type":"trail","color":"red","opacity":1},"encoding":{"x":{"field":"xv","type":"quantitative","scale":{"domain":[-1,1],"range":[2582,3294],"clamp":true}},"y":{"field":"row","type":"quantitative","scale":{"domain":[10.524,-2.91]}},"order":{"field":"xv","type":"quantitative"},"size":{"condition":{"test":"datum.pt == 'sdm'","value":67},"value":0}}}
]}
]},
{"width":3585,"height":854,"resolve":{"scale":{"x":"independent"}},"layer":[
{"data":{"values":[{}]},"layer":[
{"mark":{"type":"rule","strokeWidth":13},"encoding":{"x":{"datum":18,"scale":{"domain":[0,1391]}},"x2":{"datum":1343},"y":{"datum":-2.25,"scale":{"domain":[6.761,-2.444]}}}},
{"mark":{"type":"rule","strokeWidth":13},"encoding":{"x":{"datum":18,"scale":{"domain":[0,1391]}},"x2":{"datum":1370},"y":{"datum":6.278,"scale":{"domain":[6.761,-2.444]}}}},
{"mark":{"type":"text","align":"left","fontWeight":"bold","color":"black"},"encoding":{"x":{"datum":18,"scale":{"domain":[0,1391]}},"y":{"datum":-1.806,"scale":{"domain":[6.761,-2.444]}},"text":{"value":"Study name"}}},
{"mark":{"type":"rule","strokeWidth":4,"color":"#444"},"encoding":{"x":{"datum":15,"scale":{"domain":[0,1391]}},"x2":{"datum":125},"y":{"datum":-1.5,"scale":{"domain":[6.761,-2.444]}}}},
{"mark":{"type":"text","fontWeight":"bold","color":"black"},"encoding":{"x":{"datum":622,"scale":{"domain":[0,1391]}},"y":{"datum":-1.806,"scale":{"domain":[6.761,-2.444]}},"text":{"value":"Statistics for each study"}}},
{"mark":{"type":"rule","strokeWidth":4,"color":"#444"},"encoding":{"x":{"datum":510,"scale":{"domain":[0,1391]}},"x2":{"datum":737},"y":{"datum":-1.5,"scale":{"domain":[6.761,-2.444]}}}},
{"mark":{"type":"text","fontWeight":"bold","color":"black"},"encoding":{"x":{"datum":1108,"scale":{"domain":[0,1391]}},"y":{"datum":-1.806,"scale":{"domain":[6.761,-2.444]}},"text":{"value":"Std diff in means and 95% CI"}}},
{"mark":{"type":"rule","strokeWidth":4,"color":"#444"},"encoding":{"x":{"datum":975,"scale":{"domain":[0,1391]}},"x2":{"datum":1243},"y":{"datum":-1.5,"scale":{"domain":[6.761,-2.444]}}}},
{"mark":{"type":"text","fontWeight":"bold","color":"black"},"encoding":{"x":{"datum":345,"scale":{"domain":[0,1391]}},"y":{"datum":-0.722,"scale":{"domain":[6.761,-2.444]}},"text":{"value":["Std diff","in means"]}}},
{"mark":{"type":"text","fontWeight":"bold","color":"black"},"encoding":{"x":{"datum":450,"scale":{"domain":[0,1391]}},"y":{"datum":-0.722,"scale":{"domain":[6.761,-2.444]}},"text":{"value":["Standard","error"]}}},
{"mark":{"type":"text","fontWeight":"bold","color":"black"},"encoding":{"x":{"datum":558,"scale":{"domain":[0,1391]}},"y":{"datum":-0.083,"scale":{"domain":[6.761,-2.444]}},"text":{"value":"Variance"}}},
{"mark":{"type":"text","fontWeight":"bold","color":"black"},"encoding":{"x":{"datum":648,"scale":{"domain":[0,1391]}},"y":{"datum":-0.722,"scale":{"domain":[6.761,-2.444]}},"text":{"value":["Lower","limit"]}}},
{"mark":{"type":"text","fontWeight":"bold","color":"black"},"encoding":{"x":{"datum":729,"scale":{"domain":[0,1391]}},"y":{"datum":-0.722,"scale":{"domain":[6.761,-2.444]}},"text":{"value":["Upper","limit"]}}},
{"mark":{"type":"text","fontWeight":"bold","color":"black"},"encoding":{"x":{"datum":816,"scale":{"domain":[0,1391]}},"y":{"datum":-0.083,"scale":{"domain":[6.761,-2.444]}},"text":{"value":"Z-Value"}}},
{"mark":{"type":"text","fontWeight":"bold","color":"black"},"encoding":{"x":{"datum":905,"scale":{"domain":[0,1391]}},"y":{"datum":-0.083,"scale":{"domain":[6.761,-2.444]}},"text":{"value":"p-Value"}}},
{"mark":{"type":"text","align":"right","fontWeight":"bold","color":"black"},"encoding":{"x":{"datum":1336,"scale":{"domain":[0,1391]}},"y":{"datum":-0.722,"scale":{"domain":[6.761,-2.444]}},"text":{"value":["Relative","weight"]}}},
{"mark":{"type":"text","fontWeight":"bold","fontSize":105,"color":"#4A52D8"},"encoding":{"x":{"datum":60,"scale":{"domain":[0,1391]}},"y":{"datum":5.306,"scale":{"domain":[6.761,-2.444]}},"text":{"value":"D"}}},
{"mark":{"type":"text","fontWeight":"bold","fontSize":42,"color":"#333"},"encoding":{"x":{"datum":1032,"scale":{"domain":[0,1391]}},"y":{"datum":5.667,"scale":{"domain":[6.761,-2.444]}},"text":{"value":"Favors MT"}}},
{"mark":{"type":"text","fontWeight":"bold","fontSize":42,"color":"#333"},"encoding":{"x":{"datum":1196,"scale":{"domain":[0,1391]}},"y":{"datum":5.667,"scale":{"domain":[6.761,-2.444]}},"text":{"value":"Favors OS"}}},
{"data":{"name":"D"},"mark":{"type":"text","align":"left"},"encoding":{"x":{"datum":18,"scale":{"domain":[0,1391]}},"y":{"field":"row","type":"quantitative","scale":{"domain":[6.761,-2.444]}},"text":{"field":"study","type":"nominal"}}},
{"data":{"name":"D"},"mark":{"type":"text","align":"right"},"encoding":{"x":{"datum":390,"scale":{"domain":[0,1391]}},"y":{"field":"row","type":"quantitative","scale":{"domain":[6.761,-2.444]}},"text":{"field":"sdm","type":"quantitative","format":".3f"}}},
{"data":{"name":"D"},"mark":{"type":"text","align":"right"},"encoding":{"x":{"datum":498,"scale":{"domain":[0,1391]}},"y":{"field":"row","type":"quantitative","scale":{"domain":[6.761,-2.444]}},"text":{"field":"se","type":"quantitative","format":".3f"}}},
{"data":{"name":"D"},"mark":{"type":"text","align":"right"},"encoding":{"x":{"datum":601,"scale":{"domain":[0,1391]}},"y":{"field":"row","type":"quantitative","scale":{"domain":[6.761,-2.444]}},"text":{"field":"variance","type":"quantitative","format":".3f"}}},
{"data":{"name":"D"},"mark":{"type":"text","align":"right"},"encoding":{"x":{"datum":683,"scale":{"domain":[0,1391]}},"y":{"field":"row","type":"quantitative","scale":{"domain":[6.761,-2.444]}},"text":{"field":"lo","type":"quantitative","format":".3f"}}},
{"data":{"name":"D"},"mark":{"type":"text","align":"right"},"encoding":{"x":{"datum":762,"scale":{"domain":[0,1391]}},"y":{"field":"row","type":"quantitative","scale":{"domain":[6.761,-2.444]}},"text":{"field":"hi","type":"quantitative","format":".3f"}}},
{"data":{"name":"D"},"mark":{"type":"text","align":"right"},"encoding":{"x":{"datum":852,"scale":{"domain":[0,1391]}},"y":{"field":"row","type":"quantitative","scale":{"domain":[6.761,-2.444]}},"text":{"field":"z","type":"nominal"}}},
{"data":{"name":"D"},"mark":{"type":"text","align":"right"},"encoding":{"x":{"datum":941,"scale":{"domain":[0,1391]}},"y":{"field":"row","type":"quantitative","scale":{"domain":[6.761,-2.444]}},"text":{"field":"p","type":"quantitative","format":".3f"}}},
{"data":{"name":"D"},"transform":[{"filter":"datum.weight != null"}],"mark":{"type":"text","align":"right","dy":-5},"encoding":{"x":{"datum":1331,"scale":{"domain":[0,1391]}},"y":{"field":"row","type":"quantitative","scale":{"domain":[6.761,-2.444]}},"text":{"field":"weight","type":"quantitative","format":".2f"}}}
]},
{"layer":[
{"data":{"name":"ticks"},"mark":{"type":"rule","strokeWidth":5},"encoding":{"x":{"field":"t","type":"quantitative","scale":{"domain":[-1,1],"range":[2508,3209],"clamp":true}},"y":{"datum":0.444,"scale":{"domain":[6.761,-2.444]}},"y2":{"datum":4.611}}},
{"data":{"name":"ticks"},"mark":{"type":"text","fontWeight":"bold","fontSize":44,"color":"black"},"encoding":{"x":{"field":"t","type":"quantitative","scale":{"domain":[-1,1],"range":[2508,3209],"clamp":true}},"y":{"datum":4.972,"scale":{"domain":[6.761,-2.444]}},"text":{"field":"t","type":"quantitative","format":".2f"}}},
{"data":{"name":"D"},"transform":[{"filter":"datum.kind == 'study'"}],"mark":{"type":"rule","strokeWidth":8},"encoding":{"x":{"field":"lo","type":"quantitative","scale":{"domain":[-1,1],"range":[2508,3209],"clamp":true}},"x2":{"field":"hi"},"y":{"field":"row","type":"quantitative","scale":{"domain":[6.761,-2.444]}}}},
{"data":{"name":"D"},"transform":[{"filter":"datum.kind == 'study' && datum.sdm >= -1 && datum.sdm <= 1"}],"mark":{"type":"square","opacity":1},"encoding":{"x":{"field":"sdm","type":"quantitative","scale":{"domain":[-1,1],"range":[2508,3209],"clamp":true}},"y":{"field":"row","type":"quantitative","scale":{"domain":[6.761,-2.444]}},"size":{"field":"weight","type":"quantitative","scale":{"domain":[0,33.91],"range":[0,5184]}}}},
{"data":{"name":"D"},"transform":[{"filter":"datum.lo < -1"}],"mark":{"type":"point","shape":"M0.9,-1L0,0L0.9,1","filled":false,"strokeWidth":3.5,"size":1500,"opacity":1},"encoding":{"x":{"field":"lo","type":"quantitative","scale":{"domain":[-1,1],"range":[2508,3209],"clamp":true}},"y":{"field":"row","type":"quantitative","scale":{"domain":[6.761,-2.444]}},"color":{"condition":{"test":"datum.kind == 'summary'","value":"red"},"value":"black"}}},
{"data":{"name":"D"},"transform":[{"filter":"datum.kind == 'summary'"},{"fold":["lo","sdm","hi"],"as":["pt","xv"]}],"mark":{"type":"trail","color":"red","opacity":1},"encoding":{"x":{"field":"xv","type":"quantitative","scale":{"domain":[-1,1],"range":[2508,3209],"clamp":true}},"y":{"field":"row","type":"quantitative","scale":{"domain":[6.761,-2.444]}},"order":{"field":"xv","type":"quantitative"},"size":{"condition":{"test":"datum.pt == 'sdm'","value":72},"value":0}}}
]}
]}
]
}
